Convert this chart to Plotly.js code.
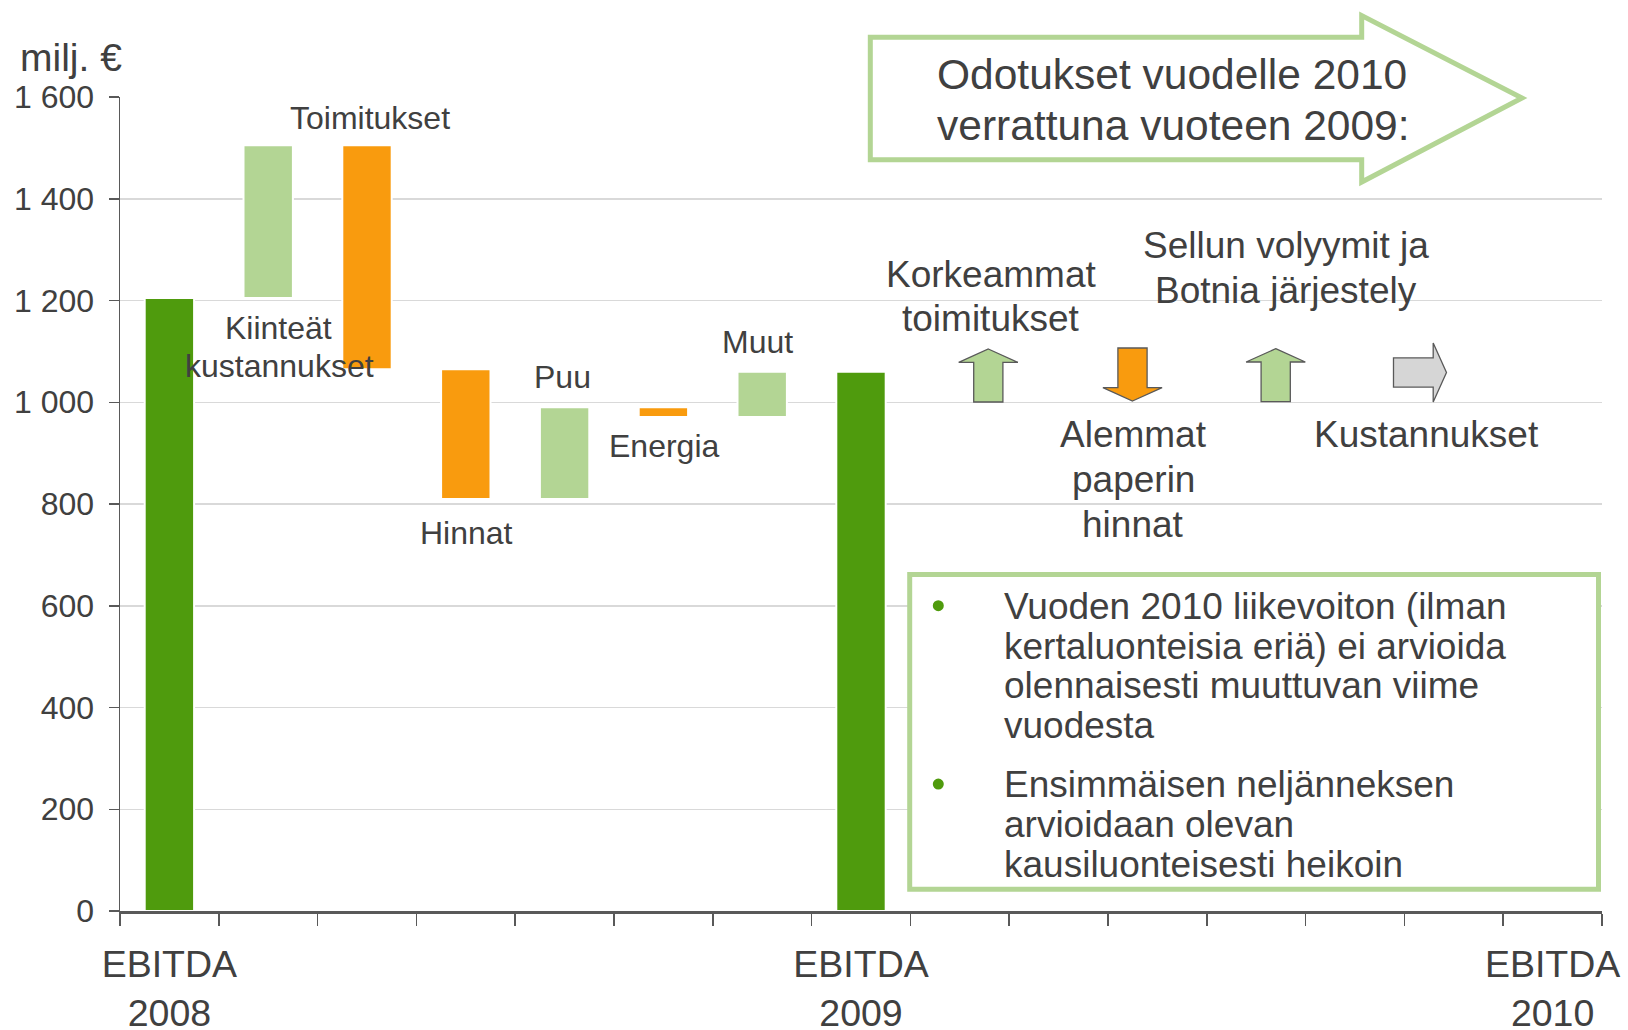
<!DOCTYPE html>
<html>
<head>
<meta charset="utf-8">
<script src="https://cdn.plot.ly/plotly-3.0.1.min.js"></script>
<style>
  html, body { margin: 0; padding: 0; background: #ffffff; }
  #chart { width: 1628px; height: 1030px; }
</style>
</head>
<body>
<div id="chart"></div>
<script>
// ---------------- DATA ----------------
const categories = ["EBITDA 2008", "Kiinteät kustannukset", "Toimitukset", "Hinnat", "Puu", "Energia", "Muut", "EBITDA 2009",
  "k8", "k9", "k10", "k11", "k12", "k13", "EBITDA 2010"];
const tickLabels = ["EBITDA<br>2008", "", "", "", "", "", "", "EBITDA<br>2009", "", "", "", "", "", "", "EBITDA<br>2010"];

const barCategories = ["EBITDA 2008", "Kiinteät kustannukset", "Toimitukset", "Hinnat", "Puu", "Energia", "Muut", "EBITDA 2009"];
const barValues = [1205, 300, -440, -255, 180, -19, 89, 0];
const barMeasures = ["absolute", "relative", "relative", "relative", "relative", "relative", "relative", "total"];

const barLabelLines = [["Kiinteät", "kustannukset"], ["Toimitukset"], ["Hinnat"], ["Puu"], ["Energia"], ["Muut"]];

const outlookLabelLines = [["Korkeammat", "toimitukset"], ["Alemmat", "paperin", "hinnat"], ["Sellun volyymit ja", "Botnia järjestely"], ["Kustannukset"]];
const outlookDirections = ["up", "down", "up", "flat"];

const headerLines = ["Odotukset vuodelle 2010", "verrattuna vuoteen 2009:"];
const bulletParagraphs = [
  ["Vuoden 2010 liikevoiton (ilman", "kertaluonteisia eriä) ei arvioida", "olennaisesti muuttuvan viime", "vuodesta"],
  ["Ensimmäisen neljänneksen", "arvioidaan olevan", "kausiluonteisesti heikoin"]
];
const yUnit = "milj. €";

// ---------------- STYLE / GEOMETRY ----------------
const FONT = "Liberation Sans, Arial, Helvetica, sans-serif";
const TXT = "#404040";
const AXIS = "#595959";
const DARK_GREEN = "#4f9b0d";
const LIGHT_GREEN = "#b3d594";
const ORANGE = "#f99b0e";
const GREY_FILL = "#d6d6d6";

const L = 120, R = 1602, T = 97, B = 911;
const px = x => (x - L) / (R - L);
const py = y => (B - y) / (B - T);

function label(text, x, y, size, anchor) {
  return {
    text: text, xref: "paper", yref: "paper", x: px(x), y: py(y),
    xanchor: anchor || "center", yanchor: "middle", showarrow: false,
    font: { family: FONT, size: size, color: TXT }
  };
}

const annotations = [];
// unit label
annotations.push(label(yUnit, 18, 57, 39, "left"));

// bar labels (pixel anchors of line centres)
const barLabelPos = [
  [[278, 327.5], [279, 366]],
  [[370, 118.5]],
  [[466, 532.5]],
  [[562, 377]],
  [[664, 446]],
  [[757, 342]]
];
barLabelLines.forEach((lines, i) => {
  lines.forEach((ln, j) => annotations.push(label(ln, barLabelPos[i][j][0], barLabelPos[i][j][1], 32)));
});

// outlook labels
const outlookLabelPos = [
  [[991, 274], [991, 318.6]],
  [[1133, 434.8], [1133, 479.4], [1133, 524]],
  [[1286, 245.5], [1286, 290]],
  [[1426, 434.8]]
];
outlookLabelLines.forEach((lines, i) => {
  lines.forEach((ln, j) => annotations.push(label(ln, outlookLabelPos[i][j][0], outlookLabelPos[i][j][1], 37)));
});

// header in big arrow
headerLines.forEach((ln, j) => annotations.push(label(ln, 935, 74.2 + j * 51.7, 42.5, "left")));

// bullet text box
const paraStart = [606.4, 784.8];
bulletParagraphs.forEach((lines, p) => {
  lines.forEach((ln, j) => annotations.push(label(ln, 1002, paraStart[p] + j * 39.7, 37, "left")));
});

// ---------------- SHAPES ----------------
function pathFrom(points) {
  return "M " + points.map(p => px(p[0]).toFixed(5) + "," + py(p[1]).toFixed(5)).join(" L ") + " Z";
}
const shapes = [];

// big outline arrow
shapes.push({
  type: "path", xref: "paper", yref: "paper", layer: "above",
  path: pathFrom([[870.3, 37.2], [1361.7, 37.2], [1361.7, 15.5], [1522, 98], [1361.7, 182], [1361.7, 159.8], [870.3, 159.8]]),
  fillcolor: "#ffffff", line: { color: LIGHT_GREEN, width: 5 }
});

// text box
shapes.push({
  type: "rect", xref: "paper", yref: "paper", layer: "above",
  x0: px(909.7), x1: px(1598.5), y0: py(574.5), y1: py(889.2),
  fillcolor: "#ffffff", line: { color: LIGHT_GREEN, width: 5 }
});
// bullets
paraStart.forEach(y => {
  const yc = y - 0.7, xc = 938.3, r = 5.5;
  shapes.push({
    type: "circle", xref: "paper", yref: "paper", layer: "above",
    x0: px(xc - r), x1: px(xc + r), y0: py(yc + r), y1: py(yc - r),
    fillcolor: DARK_GREEN, line: { width: 0 }
  });
});

// outlook arrows
const arrowCentres = [[988.3, 375.5], [1132.5, 374.5], [1275.7, 375.2], [1420, 372.5]];
const dirColor = { up: LIGHT_GREEN, down: ORANGE, flat: GREY_FILL };
function arrowPoints(dir, cx, cy) {
  const h = 26.5, sw = 14.6, hw = 29.6, hh = 13.3;
  if (dir === "up") return [[cx, cy - h], [cx + hw, cy - h + hh], [cx + sw, cy - h + hh], [cx + sw, cy + h], [cx - sw, cy + h], [cx - sw, cy - h + hh], [cx - hw, cy - h + hh]];
  if (dir === "down") return [[cx, cy + h], [cx + hw, cy + h - hh], [cx + sw, cy + h - hh], [cx + sw, cy - h], [cx - sw, cy - h], [cx - sw, cy + h - hh], [cx - hw, cy + h - hh]];
  return [[cx + h, cy], [cx + h - hh, cy - hw], [cx + h - hh, cy - sw], [cx - h, cy - sw], [cx - h, cy + sw], [cx + h - hh, cy + sw], [cx + h - hh, cy + hw]];
}
outlookDirections.forEach((d, i) => {
  shapes.push({
    type: "path", xref: "paper", yref: "paper", layer: "above",
    path: pathFrom(arrowPoints(d, arrowCentres[i][0], arrowCentres[i][1])),
    fillcolor: dirColor[d], line: { color: AXIS, width: 1.3 }
  });
});

// ---------------- TRACE ----------------
const trace = {
  type: "waterfall",
  x: barCategories,
  y: barValues,
  measure: barMeasures,
  width: 0.5,
  connector: { visible: false },
  increasing: { marker: { color: LIGHT_GREEN, line: { color: "#ffffff", width: 2 } } },
  decreasing: { marker: { color: ORANGE, line: { color: "#ffffff", width: 2 } } },
  totals: { marker: { color: DARK_GREEN, line: { color: "#ffffff", width: 2 } } },
  textposition: "none",
  hoverinfo: "skip",
  showlegend: false
};

const layout = {
  width: 1628, height: 1030,
  margin: { l: L, r: 1628 - R, t: T, b: 1030 - B, pad: 0 },
  paper_bgcolor: "#ffffff", plot_bgcolor: "#ffffff",
  separators: ", ",
  font: { family: FONT, color: TXT },
  showlegend: false,
  xaxis: {
    type: "category",
    categoryorder: "array", categoryarray: categories,
    range: [-0.5, 14.5],
    tickmode: "array", tickvals: categories, ticktext: tickLabels,
    tickson: "boundaries",
    tickangle: 0,
    ticks: "outside", ticklen: 12, tickwidth: 1.5, tickcolor: AXIS,
    ticklabelstandoff: 18,
    showline: true, linecolor: AXIS, linewidth: 3,
    showgrid: false, zeroline: false,
    tickfont: { family: FONT, size: 37.5, color: TXT },
    fixedrange: true
  },
  yaxis: {
    range: [0, 1600], dtick: 200, tick0: 0,
    separatethousands: true,
    ticks: "outside", ticklen: 10, tickwidth: 1.5, tickcolor: AXIS,
    ticklabelstandoff: 8,
    showline: true, linecolor: AXIS, linewidth: 1.5,
    showgrid: true, gridcolor: "#d9d9d9", gridwidth: 1.5,
    zeroline: false,
    tickfont: { family: FONT, size: 32, color: TXT },
    fixedrange: true
  },
  annotations: annotations,
  shapes: shapes
};

Plotly.newPlot("chart", [trace], layout, { displayModeBar: false, staticPlot: true });
</script>
</body>
</html>
